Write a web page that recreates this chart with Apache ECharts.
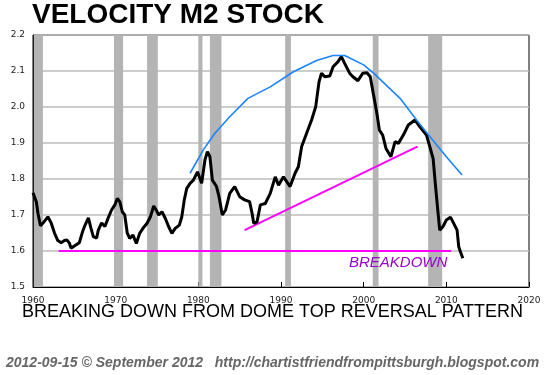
<!DOCTYPE html>
<html>
<head>
<meta charset="utf-8">
<title>Velocity M2 Stock</title>
<script src="https://cdn.jsdelivr.net/npm/echarts@6/dist/echarts.min.js"></script>
<style>
  html, body { margin: 0; padding: 0; background: #fff; }
  #chart { width: 545px; height: 375px; }
</style>
</head>
<body>
<div id="chart"></div>
<script>
// velocity of M2
var years = [1960.0,1960.4,1960.6,1960.9,1961.3,1961.8,1962.2,1962.6,1963.0,1963.4,1963.8,1964.1,1964.4,1964.6,1965.0,1965.6,1966.0,1966.3,1966.7,1967.0,1967.3,1967.7,1967.9,1968.3,1968.7,1969.1,1969.5,1969.9,1970.2,1970.5,1970.8,1971.1,1971.4,1971.7,1972.1,1972.5,1972.9,1973.3,1973.8,1974.2,1974.6,1974.9,1975.2,1975.6,1976.0,1976.4,1976.8,1977.2,1977.7,1978.0,1978.3,1978.6,1979.0,1979.4,1979.9,1980.4,1980.8,1981.1,1981.4,1981.7,1982.2,1982.5,1982.9,1983.3,1983.8,1984.4,1985.0,1985.6,1986.2,1986.5,1986.7,1987.1,1987.5,1988.1,1988.7,1989.3,1989.7,1990.3,1991.1,1991.7,1992.1,1992.5,1993.1,1993.7,1994.2,1994.6,1994.9,1995.3,1995.9,1996.3,1996.9,1997.3,1997.7,1998.3,1998.7,1999.3,1999.9,2000.4,2000.8,2001.2,2001.6,2001.9,2002.3,2002.7,2003.3,2003.8,2004.2,2004.8,2005.4,2006.2,2006.8,2007.6,2008.0,2008.4,2008.7,2009.0,2009.2,2009.6,2010.0,2010.5,2010.8,2011.3,2011.5,2011.7,2012.0];
var velocity = [1.762,1.737,1.705,1.670,1.680,1.695,1.678,1.650,1.629,1.623,1.629,1.631,1.622,1.608,1.614,1.623,1.654,1.672,1.692,1.664,1.640,1.636,1.658,1.678,1.668,1.692,1.714,1.728,1.746,1.737,1.709,1.700,1.650,1.635,1.644,1.621,1.649,1.663,1.677,1.695,1.725,1.714,1.700,1.709,1.691,1.668,1.649,1.663,1.672,1.695,1.742,1.774,1.788,1.797,1.820,1.788,1.853,1.876,1.862,1.797,1.779,1.751,1.700,1.714,1.760,1.779,1.751,1.742,1.737,1.705,1.677,1.681,1.728,1.732,1.760,1.806,1.783,1.806,1.779,1.816,1.834,1.890,1.927,1.964,2.001,2.070,2.094,2.084,2.086,2.112,2.126,2.140,2.121,2.094,2.084,2.073,2.094,2.095,2.084,2.033,1.982,1.936,1.922,1.885,1.862,1.904,1.899,1.922,1.950,1.964,1.945,1.922,1.890,1.857,1.779,1.705,1.658,1.668,1.686,1.694,1.681,1.658,1.612,1.598,1.580];

// dome drawn over the top
var domeYears = [1979.0,1980.6,1982.0,1983.8,1986.0,1988.7,1991.5,1994.3,1996.3,1997.7,2000.0,2001.2,2004.4,2006.4,2008.0,2010.0,2011.9];
var domeValues = [1.816,1.881,1.927,1.973,2.024,2.056,2.098,2.129,2.143,2.143,2.117,2.094,2.024,1.964,1.918,1.862,1.811];

// magenta lines
var supportLine = [[1963.1, 1.60], [2010.6, 1.60]];
var trendLine = [[1985.6, 1.658], [2006.5, 1.890]];

// recessions (start, end)
var recessions = [[1960.1,1961.2],[1969.8,1970.9],[1973.8,1975.1],[1980.0,1980.5],[1981.4,1982.8],[1990.5,1991.2],[2001.1,2001.8],[2007.8,2009.5]];

var xTicks = [1960, 1970, 1980, 1990, 2000, 2010, 2020];

var chart = echarts.init(document.getElementById('chart'));

var option = {
    animation: false,
    grid: {
        left: 33, right: 16, top: 35, bottom: 88,
        show: true, borderColor: '#000', borderWidth: 1
    },
    xAxis: {
        type: 'value',
        min: xTicks[0], max: xTicks[xTicks.length - 1], interval: 10,
        axisLine: { show: true, lineStyle: { color: '#000' } },
        axisTick: { show: true, inside: true, length: 5, lineStyle: { color: '#000' } },
        splitLine: { show: false },
        axisLabel: {
            color: '#222', fontFamily: 'DejaVu Sans', fontSize: 9, margin: 9,
            formatter: function (v) { return String(v); }
        }
    },
    yAxis: {
        type: 'value',
        min: 1.5, max: 2.2, interval: 0.1,
        axisLine: { show: true, lineStyle: { color: '#000' } },
        axisTick: { show: false },
        splitLine: { show: true, lineStyle: { color: '#bdbdbd', width: 1.5 } },
        axisLabel: {
            color: '#222', fontFamily: 'DejaVu Sans', fontSize: 9, margin: 8,
            formatter: function (v) { return v.toFixed(1); }
        }
    },
    series: [
        {
            type: 'custom',
            z: 1,
            encode: { x: [0, 1] },
            data: recessions,
            renderItem: function (params, api) {
                var a = api.coord([api.value(0), 2.2]);
                var b = api.coord([api.value(1), 1.5]);
                return {
                    type: 'rect',
                    shape: { x: a[0], y: a[1], width: b[0] - a[0], height: b[1] - a[1] },
                    style: { fill: '#b4b4b4' }
                };
            }
        },
        {
            type: 'line', z: 3, symbol: 'none',
            data: supportLine,
            lineStyle: { color: '#ff00ff', width: 2 }
        },
        {
            type: 'line', z: 3, symbol: 'none',
            data: trendLine,
            lineStyle: { color: '#ff00ff', width: 2 }
        },
        {
            type: 'line', z: 4, symbol: 'none',
            data: years.map(function (y, i) { return [y, velocity[i]]; }),
            lineStyle: { color: '#000', width: 3 }
        },
        {
            type: 'line', z: 5, symbol: 'none',
            data: domeYears.map(function (y, i) { return [y, domeValues[i]]; }),
            lineStyle: { color: '#1a85ff', width: 1.6 }
        }
    ],
    graphic: [
        {
            type: 'text', left: 32, top: 1, z: 100,
            style: {
                text: 'VELOCITY M2 STOCK',
                font: 'bold 28px "Liberation Sans", sans-serif',
                fill: '#000'
            }
        },
        {
            type: 'text', left: 'center', top: 303, z: 100,
            style: {
                text: 'BREAKING DOWN FROM DOME TOP REVERSAL PATTERN',
                font: '18px "Liberation Sans", sans-serif',
                fill: '#000'
            }
        },
        {
            type: 'text', left: 349, top: 255, z: 100,
            style: {
                text: 'BREAKDOWN',
                font: 'italic 15px "Liberation Sans", sans-serif',
                fill: '#9900cc'
            }
        },
        {
            type: 'text', left: 6, top: 356, z: 100,
            style: {
                text: '2012-09-15 \u00a9 September 2012   http://chartistfriendfrompittsburgh.blogspot.com',
                font: 'italic bold 14px "Liberation Sans", sans-serif',
                fill: '#666'
            }
        }
    ]
};

chart.setOption(option);
</script>
</body>
</html>
